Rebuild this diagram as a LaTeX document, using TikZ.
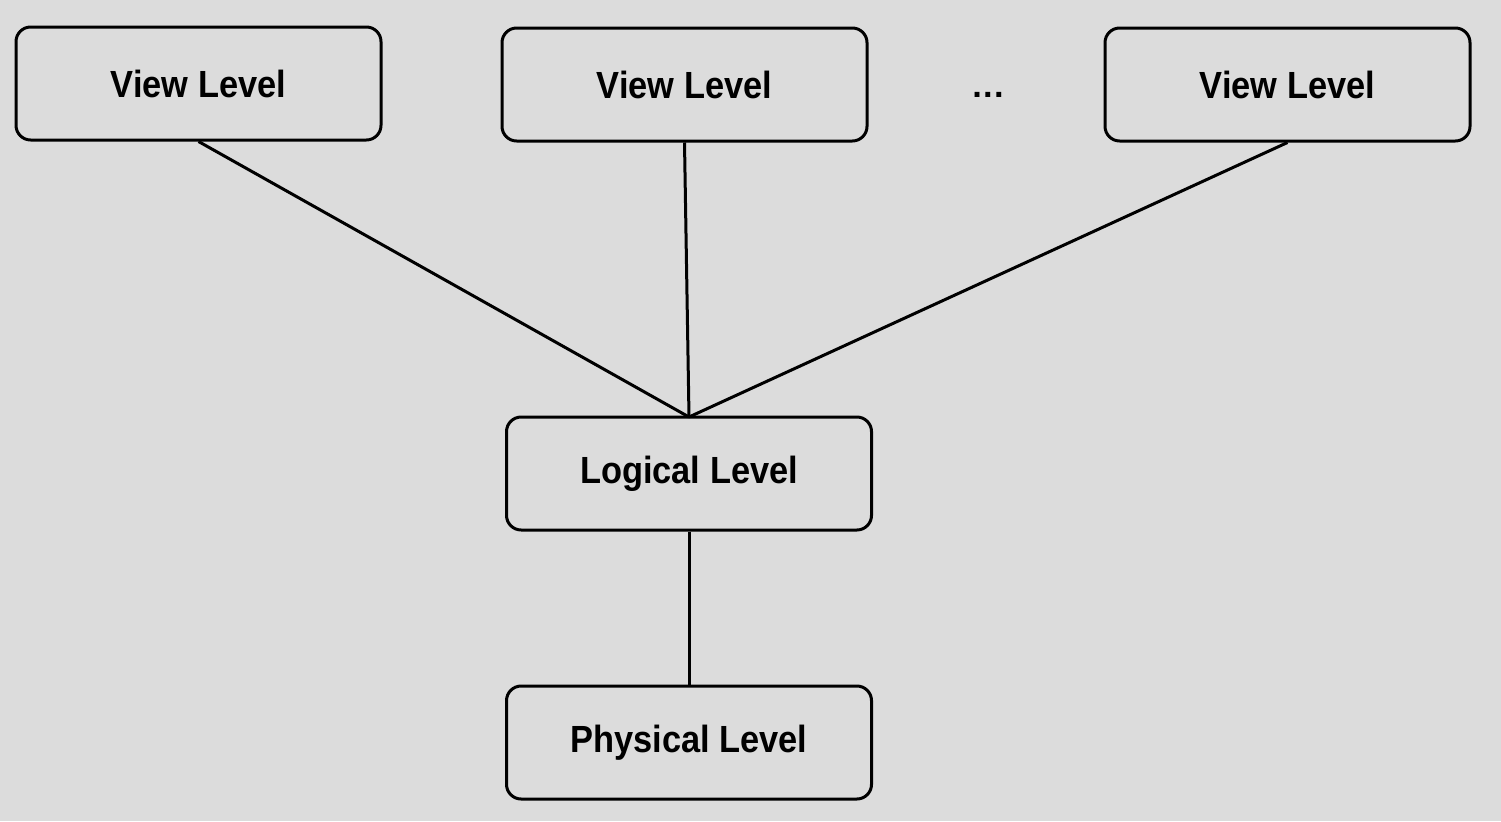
\documentclass[tikz,border=0pt]{standalone}
\usepackage{fontspec}
\usepackage{graphicx}
\setmainfont{Liberation Sans}
\definecolor{bggray}{RGB}{220,220,220}
\newcommand{\lvltext}[1]{\scalebox{1}[1.1]{#1}}
\tikzset{
  levelbox/.style={draw=black, line width=2.25, rounded corners=11, fill=bggray,
    minimum width=273.75, minimum height=84.75, inner sep=0pt,
    font=\fontsize{25.8}{30}\selectfont\bfseries},
  link/.style={draw=black, line width=2.25}
}
\begin{document}
\begin{tikzpicture}[x=0.75pt,y=0.75pt,yscale=-1,xscale=1]
%background, sets the size of the page
\fill[bggray] (0,0) rectangle (1501,821);
\useasboundingbox (0,0) rectangle (1501,821);

%View levels
\node[levelbox] (view1) at (198.5,83.5) {\lvltext{View Level}};
\node[levelbox] (view2) at (684.5,84.5) {\lvltext{View Level}};
\node[levelbox] (view3) at (1287.5,84.5) {\lvltext{View Level}};
\node[font=\fontsize{25.8}{30}\selectfont\bfseries, inner sep=0pt] (dots) at (988,95) {.\kern1pt.\kern1pt.};

%Logical and physical levels
\node[levelbox] (logical) at (689,473.5) {\lvltext{Logical Level}};
\node[levelbox] (physical) at (689,742.5) {\lvltext{Physical Level}};

%Links
\coordinate (meet) at (689,417);
\draw[link] (view1.south) -- (meet);
\draw[link] (view2.south) -- (meet);
\draw[link] (view3.south) -- (meet);
\draw[link] (logical) -- (physical);

\end{tikzpicture}
\end{document}
